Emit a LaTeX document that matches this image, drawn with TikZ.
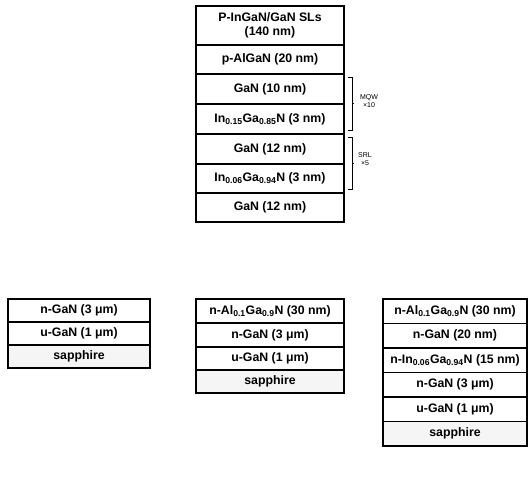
\documentclass[tikz,border=0pt]{standalone}
\usepackage{fontspec}
\setmainfont{Liberation Sans}
\usetikzlibrary{calc}
\begin{document}
\begin{tikzpicture}[x=1pt,y=-1pt,
  layer/.style={draw=black,line width=1.1pt,rectangle,inner sep=0pt,outer sep=0pt,
    font=\fontsize{12.3}{14.5}\selectfont\bfseries,align=center},
  sub/.style={fill=black!4},
  brk/.style={draw=black,line width=0.9pt},
  lbl/.style={font=\fontsize{7}{7.5}\selectfont,inner sep=0pt,align=center}]
\useasboundingbox (0,0) rectangle (530,479);
\newcommand{\lay}[7]{% name, xl, xr, yt, yb, text, extra style
  \node[layer,#7,minimum width={#3-#2},minimum height={#5-#4}] (#1) at ({(#2+#3)/2},{(#4+#5)/2}) {#6};}
\newcommand{\subx}[1]{\textsubscript{#1}}
% top stack
\lay{t1}{196}{344}{6}{45}{P-InGaN/GaN SLs\\(140 nm)}{}
\lay{t2}{196}{344}{45}{74}{p-AlGaN (20 nm)}{}
\lay{t3}{196}{344}{74}{104}{GaN (10 nm)}{}
\lay{t4}{196}{344}{104}{134}{In\subx{0.15}Ga\subx{0.85}N (3 nm)}{}
\lay{t5}{196}{344}{134}{164}{GaN (12 nm)}{}
\lay{t6}{196}{344}{164}{193}{In\subx{0.06}Ga\subx{0.94}N (3 nm)}{}
\lay{t7}{196}{344}{193}{222}{GaN (12 nm)}{}
% brackets
\coordinate (m1) at ([xshift=8pt,yshift=-3pt]t3.north east);
\coordinate (m2) at ([xshift=8pt,yshift=4pt]t4.south east);
\draw[brk] ([xshift=-4pt]m1) -- (m1) -- (m2) -- ([xshift=-4pt]m2);
\draw[brk] ($(m1)!0.5!(m2)$) -- ++(2,0);
\coordinate (s1) at ([xshift=8pt,yshift=-3pt]t5.north east);
\coordinate (s2) at ([xshift=8pt,yshift=4pt]t6.south east);
\draw[brk] ([xshift=-4pt]s1) -- (s1) -- (s2) -- ([xshift=-4pt]s2);
\draw[brk] ($(s1)!0.5!(s2)$) -- ++(2,0);
\node[lbl] (mqw) at (369,101) {MQW\\×10};
\node[lbl] (srl) at (365,159) {SRL\\×5};
% left stack
\lay{a1}{8}{150}{299}{322}{n-GaN (3 μm)}{}
\lay{a2}{8}{150}{322}{345}{u-GaN (1 μm)}{}
\lay{a3}{8}{150}{345}{368}{sapphire}{sub}
% middle stack
\lay{b1}{196}{344}{299}{323}{n-Al\subx{0.1}Ga\subx{0.9}N (30 nm)}{}
\lay{b2}{196}{344}{323}{347}{n-GaN (3 μm)}{}
\lay{b3}{196}{344}{347}{370}{u-GaN (1 μm)}{}
\lay{b4}{196}{344}{370}{393}{sapphire}{sub}
% right stack
\lay{c1}{383}{527}{299}{323.5}{n-Al\subx{0.1}Ga\subx{0.9}N (30 nm)}{}
\lay{c2}{383}{527}{323.5}{348}{n-GaN (20 nm)}{}
\lay{c3}{383}{527}{348}{372.5}{n-In\subx{0.06}Ga\subx{0.94}N (15 nm)}{}
\lay{c4}{383}{527}{372.5}{397}{n-GaN (3 μm)}{}
\lay{c5}{383}{527}{397}{421.5}{u-GaN (1 μm)}{}
\lay{c6}{383}{527}{421.5}{446}{sapphire}{sub}
\end{tikzpicture}
\end{document}
